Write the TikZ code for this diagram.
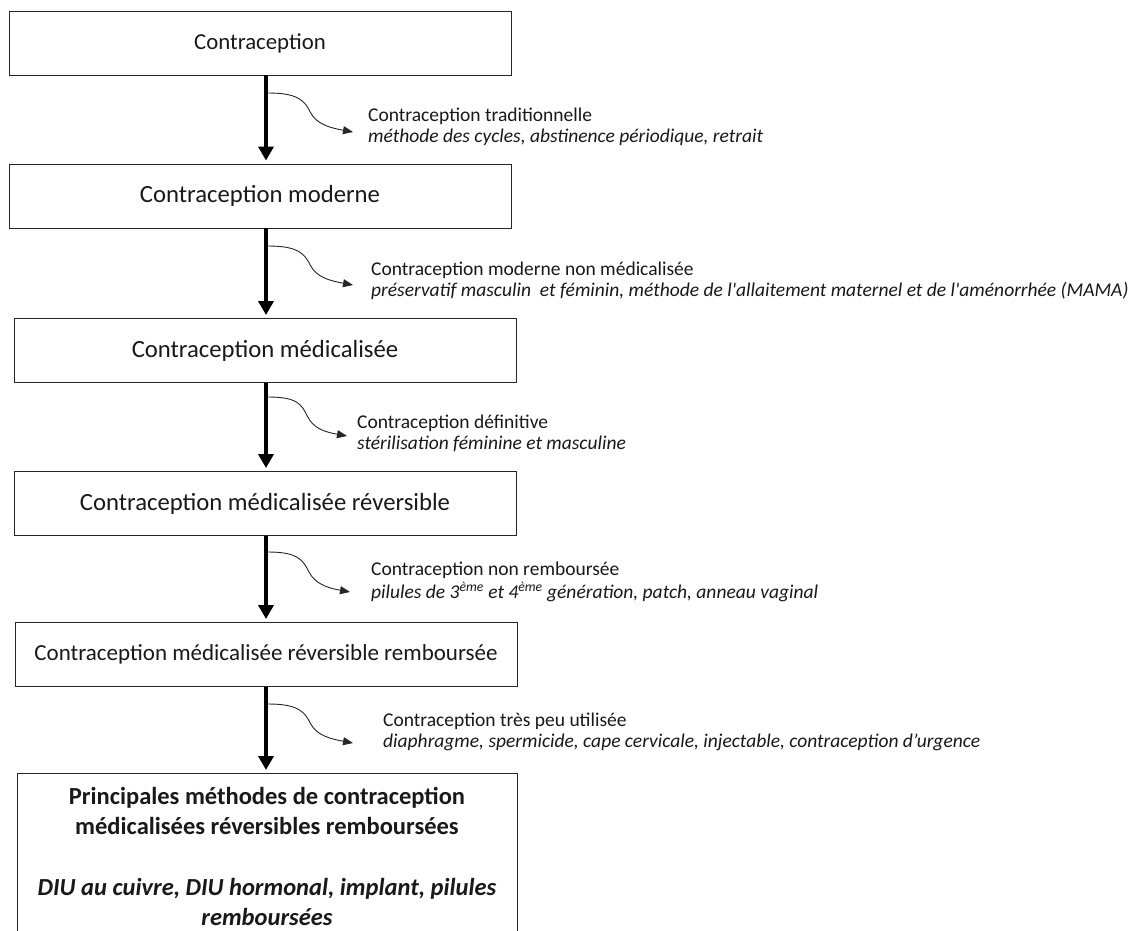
\documentclass[tikz,border=0pt]{standalone}
\usepackage{fontspec}
\setmainfont{Carlito}
\usetikzlibrary{arrows.meta,calc}
\begin{document}
\begin{tikzpicture}[x=1pt,y=-1pt,
  box/.style={draw=black!85, line width=0.9pt, minimum width=502pt, minimum height=64pt, inner sep=0pt, text=black!90},
  bigtxt/.style={font=\fontsize{24.7}{30}\selectfont},
  mainarrow/.style={line width=3.6pt, -{Triangle[width=15pt,length=14pt]}, shorten >=3pt},
  sidearrow/.style={line width=0.9pt, draw=black!85, -{Triangle[width=8pt,length=10pt]}},
  sidetext/.style={anchor=west, align=left, font=\fontsize{19.5}{21}\selectfont, inner sep=0pt, text=black!90}]
\clip (0,0) rectangle (1132,931);
\fill[white] (0,0) rectangle (1132,931);

% boxes
\node[box, font=\fontsize{22.8}{27}\selectfont] (b1) at (260,43) {Contraception};
\node[box, bigtxt] (b2) at (260,196) {Contraception moderne};
\node[box, bigtxt] (b3) at (265,350.5) {Contraception médicalisée};
\node[box, bigtxt] (b4) at (265,503.5) {Contraception médicalisée réversible};
\node[box, font=\fontsize{23}{28}\selectfont] (b5) at (266,654.5) {Contraception médicalisée réversible remboursée};
\node[box, minimum width=500pt, minimum height=200pt, anchor=north] (b6) at (267,773) {};
\node[font=\bfseries\fontsize{24.5}{30}\selectfont, align=center, text=black!90] (b6t) at (267,856)
  {Principales méthodes de contraception\\médicalisées réversibles remboursées\\[31pt]\textit{DIU au cuivre, DIU hormonal, implant, pilules}\\\textit{remboursées}};

% main arrows
\coordinate (ax) at (266,0);
\draw[mainarrow] (b1.south -| ax) -- (b2.north -| ax);
\draw[mainarrow] (b2.south -| ax) -- (b3.north -| ax);
\draw[mainarrow] (b3.south -| ax) -- (b4.north -| ax);
\draw[mainarrow] (b4.south -| ax) -- (b5.north -| ax);
\draw[mainarrow] (b5.south -| ax) -- (b6.north -| ax);

% side arrows
\coordinate (s1) at (268,93);  \coordinate (t1) at (353,132);
\coordinate (s2) at (268,246); \coordinate (t2) at (353,285);
\coordinate (s3) at (268,397); \coordinate (t3) at (347,436);
\coordinate (s4) at (268,552); \coordinate (t4) at (350,592);
\coordinate (s5) at (268,704); \coordinate (t5) at (353,743);
\foreach \i in {1,...,5}{
  \draw[sidearrow] (s\i) .. controls +(30,0) and +(-6,-12) .. ($(s\i)!0.5!(t\i)$) .. controls +(6,12) and +(-22,-4) .. (t\i);
}

% side texts
\node[sidetext] (l1) at (368,127) {Contraception traditionnelle\\\textit{méthode des cycles, abstinence périodique, retrait}};
\node[sidetext] (l2) at (371,281) {Contraception moderne non médicalisée\\\textit{préservatif masculin\ \ et féminin, méthode de l\textquotesingle allaitement maternel et de l\textquotesingle aménorrhée (MAMA)}};
\node[sidetext] (l3) at (357,433) {Contraception définitive\\\textit{stérilisation féminine et masculine}};
\node[sidetext, font=\fontsize{19.5}{23}\selectfont] (l4) at (371,582) {Contraception non remboursée\\\textit{pilules de 3\textsuperscript{ème} et 4\textsuperscript{ème} génération, patch, anneau vaginal}};
\node[sidetext] (l5) at (383,732) {Contraception très peu utilisée\\\textit{diaphragme, spermicide, cape cervicale, injectable, contraception d’urgence}};
\end{tikzpicture}
\end{document}
